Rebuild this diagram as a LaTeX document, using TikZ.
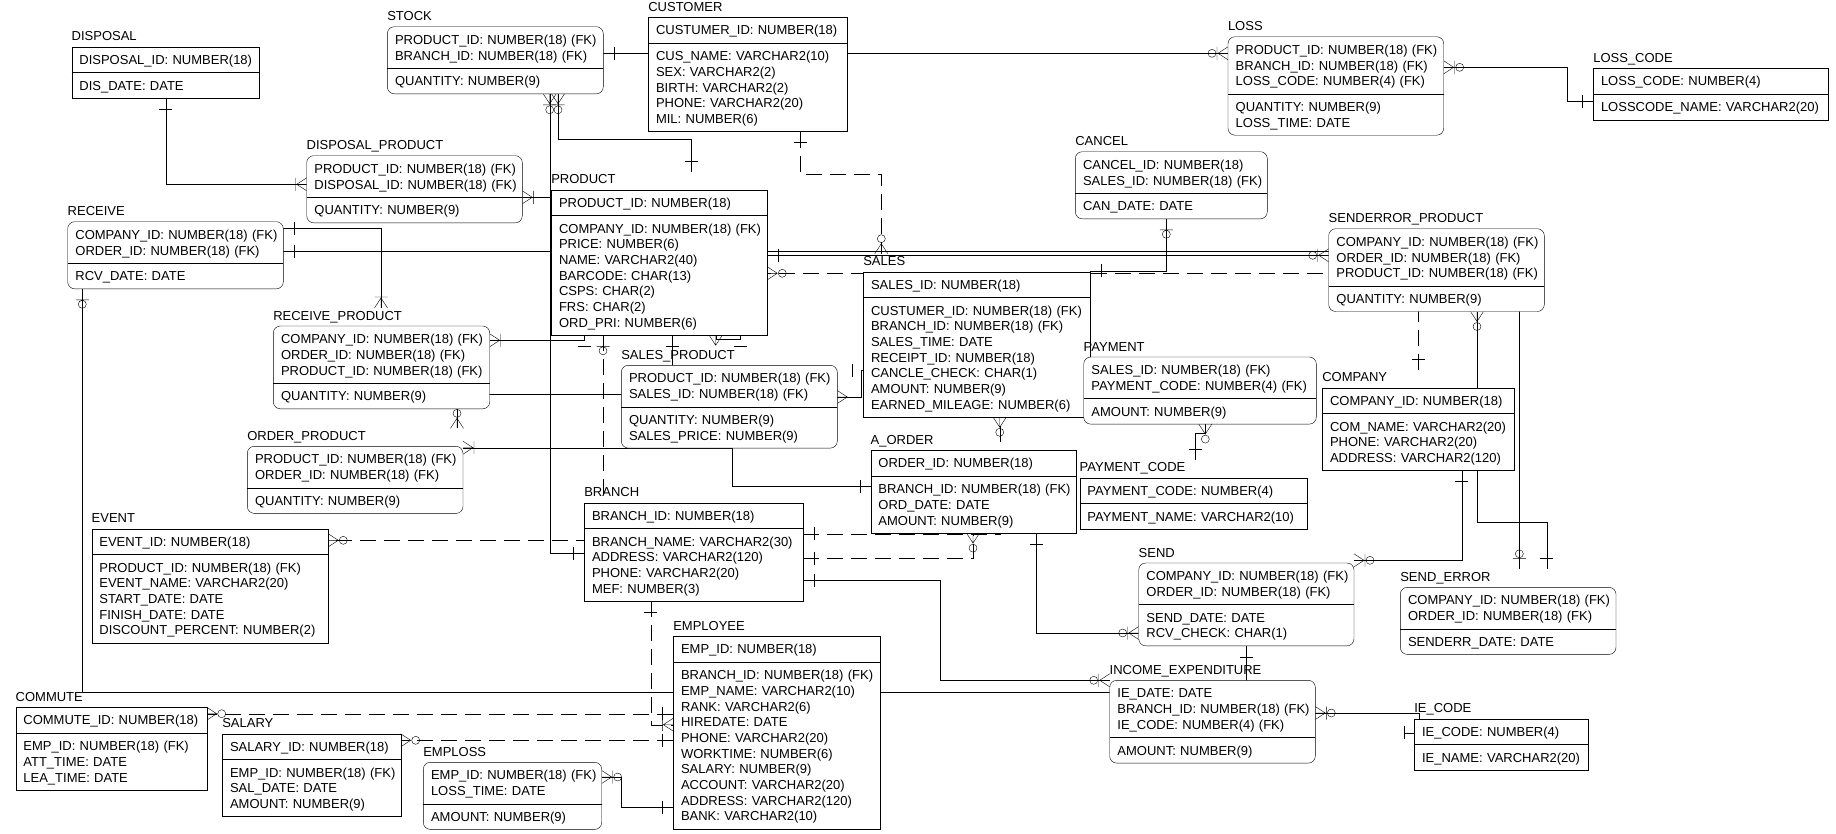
\documentclass[tikz,border=0pt]{standalone}
\usepackage{fontspec}
\newfontfamily\erfamily{Liberation Sans}
\usetikzlibrary{fit}
\pgfdeclarelayer{bg}\pgfdeclarelayer{mid}\pgfsetlayers{bg,mid,main}
\newcommand\erfnt{\erfamily\fontsize{13pt}{15.7pt}\selectfont}
\newcommand\erstrut{\rule[-3.1pt]{0pt}{15.7pt}}
\newcommand\errow[1]{\mbox{\erstrut#1}}
\tikzset{
 cell/.style={inner xsep=7.7pt, inner ysep=5pt, align=left, font=\erfnt, outer sep=0pt, anchor=north west},
 etitle/.style={anchor=base west, inner sep=0pt, outer sep=0pt, font=\erfnt, text height=12pt, text depth=0pt},
 rnd/.style={rounded corners=7pt},
 sq/.style={},
 dsh/.style={dash pattern=on 16pt off 8pt},
 pone/.pic={\draw (11,-6.5)--(11,6.5);},
 pmany/.pic={\draw (0,-6.5)--(10,0)--(0,6.5) (0,0)--(10,0);},
 ponemany/.pic={\draw (0,-6.5)--(10,0)--(0,6.5) (0,0)--(10,0) (11,-6.5)--(11,6.5);},
 pzeromany/.pic={\draw (0,-6.5)--(10,0)--(0,6.5) (0,0)--(10,0) (15,0) circle[radius=4pt];},
 pzeroone/.pic={\draw (11,-6.5)--(11,6.5) (15.5,0) circle[radius=4pt];},
 pzom/.pic={\draw (0,-6.5)--(10,0)--(0,6.5) (0,0)--(10,0) (11,-6.5)--(11,6.5) (16,0) circle[radius=4pt];},
}
\newcommand\erent[8]{%
 \pgfmathsetmacro\ertw{#5-15.4}%
 \node[cell, text width=\ertw pt] (#2-k) at (#3,#4) {#7};
 \node[cell, text width=\ertw pt] (#2-n) at (#2-k.south west) {#8};
 \begin{pgfonlayer}{mid}
 \node[fit=(#2-k)(#2-n), inner sep=0pt, outer sep=0pt, draw, fill=white, #1] (#2) {};
 \end{pgfonlayer}
 \draw (#2-k.south west) -- (#2-k.south east);
 \node[etitle] (#2-t) at ([yshift=6pt]#2-k.north west) {#6};
}
\newcommand\ersym[3]{\pic[rotate=#2] at (#3) {#1};}
\begin{document}
\begin{tikzpicture}[x=1pt, y=-1pt, line width=1pt]
\useasboundingbox (0,0) rectangle (1836,833);
% ---------------- entities
\erent{sq}{disp}{71.7}{46.7}{187.6}{DISPOSAL}{\errow{DISPOSAL\_ID: NUMBER(18)}}{\errow{DIS\_DATE: DATE}}
\erent{rnd}{stock}{387.3}{26.7}{216}{STOCK}{\errow{PRODUCT\_ID: NUMBER(18) (FK)}\\\errow{BRANCH\_ID: NUMBER(18) (FK)}}{\errow{QUANTITY: NUMBER(9)}}
\erent{sq}{cust}{648.3}{17.3}{199}{CUSTOMER}{\errow{CUSTUMER\_ID: NUMBER(18)}}{\errow{CUS\_NAME: VARCHAR2(10)}\\\errow{SEX: VARCHAR2(2)}\\\errow{BIRTH: VARCHAR2(2)}\\\errow{PHONE: VARCHAR2(20)}\\\errow{MIL: NUMBER(6)}}
\erent{rnd}{loss}{1228}{36.7}{215.7}{LOSS}{\errow{PRODUCT\_ID: NUMBER(18) (FK)}\\\errow{BRANCH\_ID: NUMBER(18) (FK)}\\\errow{LOSS\_CODE: NUMBER(4) (FK)}}{\errow{QUANTITY: NUMBER(9)}\\\errow{LOSS\_TIME: DATE}}
\erent{sq}{lcode}{1593.3}{68.3}{235}{LOSS\_CODE}{\errow{LOSS\_CODE: NUMBER(4)}}{\errow{LOSSCODE\_NAME: VARCHAR2(20)}}
\erent{rnd}{dprod}{306.7}{155.7}{215.6}{DISPOSAL\_PRODUCT}{\errow{PRODUCT\_ID: NUMBER(18) (FK)}\\\errow{DISPOSAL\_ID: NUMBER(18) (FK)}}{\errow{QUANTITY: NUMBER(9)}}
\erent{rnd}{recv}{67.7}{221.7}{215.6}{RECEIVE}{\errow{COMPANY\_ID: NUMBER(18) (FK)}\\\errow{ORDER\_ID: NUMBER(18) (FK)}}{\errow{RCV\_DATE: DATE}}
\erent{sq}{prod}{551.3}{189.7}{216}{PRODUCT}{\errow{PRODUCT\_ID: NUMBER(18)}}{\errow{COMPANY\_ID: NUMBER(18) (FK)}\\\errow{PRICE: NUMBER(6)}\\\errow{NAME: VARCHAR2(40)}\\\errow{BARCODE: CHAR(13)}\\\errow{CSPS: CHAR(2)}\\\errow{FRS: CHAR(2)}\\\errow{ORD\_PRI: NUMBER(6)}}
\erent{rnd}{cancel}{1075.3}{151.7}{192}{CANCEL}{\errow{CANCEL\_ID: NUMBER(18)}\\\errow{SALES\_ID: NUMBER(18) (FK)}}{\errow{CAN\_DATE: DATE}}
\erent{rnd}{sep}{1328.7}{228.7}{215.6}{SENDERROR\_PRODUCT}{\errow{COMPANY\_ID: NUMBER(18) (FK)}\\\errow{ORDER\_ID: NUMBER(18) (FK)}\\\errow{PRODUCT\_ID: NUMBER(18) (FK)}}{\errow{QUANTITY: NUMBER(9)}}
\erent{sq}{sales}{863.3}{271.7}{226.4}{SALES}{\errow{SALES\_ID: NUMBER(18)}}{\errow{CUSTUMER\_ID: NUMBER(18) (FK)}\\\errow{BRANCH\_ID: NUMBER(18) (FK)}\\\errow{SALES\_TIME: DATE}\\\errow{RECEIPT\_ID: NUMBER(18)}\\\errow{CANCLE\_CHECK: CHAR(1)}\\\errow{AMOUNT: NUMBER(9)}\\\errow{EARNED\_MILEAGE: NUMBER(6)}}
\erent{rnd}{rprod}{273.3}{326}{216.4}{RECEIVE\_PRODUCT}{\errow{COMPANY\_ID: NUMBER(18) (FK)}\\\errow{ORDER\_ID: NUMBER(18) (FK)}\\\errow{PRODUCT\_ID: NUMBER(18) (FK)}}{\errow{QUANTITY: NUMBER(9)}}
\erent{rnd}{sprod}{621.3}{365.3}{216}{SALES\_PRODUCT}{\errow{PRODUCT\_ID: NUMBER(18) (FK)}\\\errow{SALES\_ID: NUMBER(18) (FK)}}{\errow{QUANTITY: NUMBER(9)}\\\errow{SALES\_PRICE: NUMBER(9)}}
\erent{rnd}{pay}{1083.7}{357}{232.6}{PAYMENT}{\errow{SALES\_ID: NUMBER(18) (FK)}\\\errow{PAYMENT\_CODE: NUMBER(4) (FK)}}{\errow{AMOUNT: NUMBER(9)}}
\erent{sq}{comp}{1322.3}{387.7}{192}{COMPANY}{\errow{COMPANY\_ID: NUMBER(18)}}{\errow{COM\_NAME: VARCHAR2(20)}\\\errow{PHONE: VARCHAR2(20)}\\\errow{ADDRESS: VARCHAR2(120)}}
\erent{rnd}{oprod}{247.3}{446.3}{215.7}{ORDER\_PRODUCT}{\errow{PRODUCT\_ID: NUMBER(18) (FK)}\\\errow{ORDER\_ID: NUMBER(18) (FK)}}{\errow{QUANTITY: NUMBER(9)}}
\erent{sq}{aord}{870.7}{450.3}{205.6}{A\_ORDER}{\errow{ORDER\_ID: NUMBER(18)}}{\errow{BRANCH\_ID: NUMBER(18) (FK)}\\\errow{ORD\_DATE: DATE}\\\errow{AMOUNT: NUMBER(9)}}
\erent{sq}{pcode}{1079.7}{477.7}{227.6}{PAYMENT\_CODE}{\errow{PAYMENT\_CODE: NUMBER(4)}}{\errow{PAYMENT\_NAME: VARCHAR2(10)}}
\erent{sq}{branch}{584.3}{502.7}{219}{BRANCH}{\errow{BRANCH\_ID: NUMBER(18)}}{\errow{BRANCH\_NAME: VARCHAR2(30)}\\\errow{ADDRESS: VARCHAR2(120)}\\\errow{PHONE: VARCHAR2(20)}\\\errow{MEF: NUMBER(3)}}
\erent{sq}{event}{91.7}{528.7}{236.6}{EVENT}{\errow{EVENT\_ID: NUMBER(18)}}{\errow{PRODUCT\_ID: NUMBER(18) (FK)}\\\errow{EVENT\_NAME: VARCHAR2(20)}\\\errow{START\_DATE: DATE}\\\errow{FINISH\_DATE: DATE}\\\errow{DISCOUNT\_PERCENT: NUMBER(2)}}
\erent{rnd}{send}{1138.7}{563}{215.3}{SEND}{\errow{COMPANY\_ID: NUMBER(18) (FK)}\\\errow{ORDER\_ID: NUMBER(18) (FK)}}{\errow{SEND\_DATE: DATE}\\\errow{RCV\_CHECK: CHAR(1)}}
\erent{rnd}{serr}{1400.3}{587.3}{215.7}{SEND\_ERROR}{\errow{COMPANY\_ID: NUMBER(18) (FK)}\\\errow{ORDER\_ID: NUMBER(18) (FK)}}{\errow{SENDERR\_DATE: DATE}}
\erent{sq}{emp}{673.3}{636.3}{206.4}{EMPLOYEE}{\errow{EMP\_ID: NUMBER(18)}}{\errow{BRANCH\_ID: NUMBER(18) (FK)}\\\errow{EMP\_NAME: VARCHAR2(10)}\\\errow{RANK: VARCHAR2(6)}\\\errow{HIREDATE: DATE}\\\errow{PHONE: VARCHAR2(20)}\\\errow{WORKTIME: NUMBER(6)}\\\errow{SALARY: NUMBER(9)}\\\errow{ACCOUNT: VARCHAR2(20)}\\\errow{ADDRESS: VARCHAR2(120)}\\\errow{BANK: VARCHAR2(10)}}
\erent{rnd}{ie}{1109.7}{680.3}{205.6}{INCOME\_EXPENDITURE}{\errow{IE\_DATE: DATE}\\\errow{BRANCH\_ID: NUMBER(18) (FK)}\\\errow{IE\_CODE: NUMBER(4) (FK)}}{\errow{AMOUNT: NUMBER(9)}}
\erent{sq}{iec}{1414.3}{718.7}{174}{IE\_CODE}{\errow{IE\_CODE: NUMBER(4)}}{\errow{IE\_NAME: VARCHAR2(20)}}
\erent{sq}{commute}{15.7}{707.3}{191}{COMMUTE}{\errow{COMMUTE\_ID: NUMBER(18)}}{\errow{EMP\_ID: NUMBER(18) (FK)}\\\errow{ATT\_TIME: DATE}\\\errow{LEA\_TIME: DATE}}
\erent{sq}{salary}{222.3}{733.7}{178.4}{SALARY}{\errow{SALARY\_ID: NUMBER(18)}}{\errow{EMP\_ID: NUMBER(18) (FK)}\\\errow{SAL\_DATE: DATE}\\\errow{AMOUNT: NUMBER(9)}}
\erent{rnd}{emploss}{423.3}{762.3}{178.4}{EMPLOSS}{\errow{EMP\_ID: NUMBER(18) (FK)}\\\errow{LOSS\_TIME: DATE}}{\errow{AMOUNT: NUMBER(9)}}
% ---------------- connectors
\begin{pgfonlayer}{bg}
\fill[white] (0,0) rectangle (1836,833);
% DISPOSAL - DISPOSAL_PRODUCT
\draw (disp.south -| 165.7,0) |- (dprod.west |- 0,184.3);
\ersym{pone}{-90}{disp.south -| 165.7,0}
\ersym{ponemany}{180}{dprod.west |- 0,184.3}
% PRODUCT - DISPOSAL_PRODUCT
\draw (dprod.east |- 0,197.3) -- (prod.west |- 0,197.3);
\ersym{ponemany}{0}{dprod.east |- 0,197.3}
% STOCK - LOSS
\draw (stock.east |- 0,53.3) -- (loss.west |- 0,53.3);
\ersym{pone}{0}{stock.east |- 0,53.3}
\ersym{pzom}{180}{loss.west |- 0,53.3}
% LOSS_CODE - LOSS
\draw (loss.east |- 0,67.3) -| (1566.7,101) -- (lcode.west |- 0,101);
\ersym{pzom}{0}{loss.east |- 0,67.3}
\ersym{pone}{180}{lcode.west |- 0,101}
% PRODUCT - STOCK
\draw (prod-t.north -| 691.3,0) |- (558,139.3) -- (stock.south -| 558,0);
\ersym{pone}{90}{prod-t.north -| 691.3,0}
\ersym{pzom}{-90}{stock.south -| 558,0}
% BRANCH - STOCK
\draw (branch.west |- 0,553) -| (stock.south -| 549.7,0);
\ersym{pone}{180}{branch.west |- 0,553}
\ersym{pzom}{-90}{stock.south -| 549.7,0}
% CUSTOMER - SALES
\draw[dsh] (cust.south -| 800,0) |- (881.3,174) -- (sales-t.north -| 881.3,0);
\ersym{pone}{-90}{cust.south -| 800,0}
\ersym{pzeromany}{90}{sales-t.north -| 881.3,0}
% PRODUCT - SENDERROR_PRODUCT
\draw (prod.east |- 0,255.3) -- (sep.west |- 0,255.3);
\ersym{pone}{0}{prod.east |- 0,255.3}
\ersym{pzom}{180}{sep.west |- 0,255.3}
% RECEIVE - SEND_ERROR
\draw (recv.east |- 0,251) -| (serr-t.north -| 1519.3,0);
\ersym{pone}{0}{recv.east |- 0,251}
\ersym{pzeroone}{90}{serr-t.north -| 1519.3,0}
% RECEIVE - RECEIVE_PRODUCT
\draw (recv.east |- 0,228.3) -| (rprod-t.north -| 381,0);
\ersym{pone}{0}{recv.east |- 0,228.3}
\ersym{ponemany}{90}{rprod-t.north -| 381,0}
% COMPANY - PRODUCT
\draw[dsh] (comp-t.north -| 1418.3,0) |- (prod.east |- 0,273.3);
\ersym{pone}{90}{comp-t.north -| 1418.3,0}
\ersym{pzeromany}{0}{prod.east |- 0,273.3}
% SALES - CANCEL
\draw (sales.east |- 0,270.7) -| (cancel.south -| 1166.3,0);
\ersym{pone}{0}{sales.east |- 0,270.7}
\ersym{pzeroone}{-90}{cancel.south -| 1166.3,0}
% SEND - RECEIVE
\draw (send.south -| 1246.3,0) |- (82.3,692.3) -- (recv.south -| 82.3,0);
\ersym{pone}{-90}{send.south -| 1246.3,0}
\ersym{pzeroone}{-90}{recv.south -| 82.3,0}
% PRODUCT - RECEIVE_PRODUCT
\draw (rprod.east |- 0,340.3) -| (prod.south -| 584,0);
\ersym{ponemany}{0}{rprod.east |- 0,340.3}
\ersym{pone}{-90}{prod.south -| 584,0}
% PRODUCT - ORDER_PRODUCT
\draw (prod.south -| 672.3,0) |- (457,393.7) -- (oprod-t.north -| 457,0);
\ersym{pzeromany}{90}{oprod-t.north -| 457,0}
% PRODUCT - PRODUCT (recursive)
\draw (prod.south -| 715.7,0) |- (740,339.3) -- (prod.south -| 740,0);
\ersym{pmany}{-90}{prod.south -| 715.7,0}
\ersym{pone}{-90}{prod.south -| 740,0}
% A_ORDER - ORDER_PRODUCT
\draw (aord.west |- 0,486.3) -| (732.3,447.7) -- (oprod.east |- 0,447.7);
\ersym{pone}{180}{aord.west |- 0,486.3}
\ersym{ponemany}{0}{oprod.east |- 0,447.7}
% PRODUCT - EVENT
\draw[dsh] (prod.south -| 603,0) |- (event.east |- 0,540.3);
\ersym{pzeroone}{-90}{prod.south -| 603,0}
\ersym{pzeromany}{0}{event.east |- 0,540.3}
% PRODUCT - SALES_PRODUCT
\draw (prod.south -| 672.3,0) -- (sprod.north -| 672.3,0);
\ersym{pone}{-90}{prod.south -| 672.3,0}
% SALES - SALES_PRODUCT
\draw (sprod.east |- 0,397) -| (861.3,370.3) -- (sales.west |- 0,370.3);
\ersym{pmany}{0}{sprod.east |- 0,397}
\ersym{pone}{180}{sales.west |- 0,370.3}
% BRANCH - SALES
\draw[dsh] (branch.east |- 0,533.7) -| (sales.south -| 999.7,0);
\ersym{pone}{0}{branch.east |- 0,533.7}
\ersym{pzeromany}{-90}{sales.south -| 999.7,0}
% BRANCH - A_ORDER
\draw[dsh] (branch.east |- 0,558) -| (aord.south -| 973,0);
\ersym{pone}{0}{branch.east |- 0,558}
\ersym{pzeromany}{-90}{aord.south -| 973,0}
% BRANCH - INCOME_EXPENDITURE
\draw (branch.east |- 0,580.3) -| (939.7,680.3) -- (ie.west |- 0,680.3);
\ersym{pone}{0}{branch.east |- 0,580.3}
\ersym{pzom}{180}{ie.west |- 0,680.3}
% A_ORDER - SEND
\draw (aord.south -| 1036.3,0) |- (send.west |- 0,633);
\ersym{pone}{-90}{aord.south -| 1036.3,0}
\ersym{pzom}{180}{send.west |- 0,633}
% COMPANY - SEND
\draw (comp.south -| 1461.7,0) |- (send.east |- 0,560.3);
\ersym{pone}{-90}{comp.south -| 1461.7,0}
\ersym{pzom}{0}{send.east |- 0,560.3}
% PAYMENT_CODE - PAYMENT
\draw (pcode-t.north -| 1195.3,0) |- (1205.3,433) -- (pay.south -| 1205.3,0);
\ersym{pone}{90}{pcode-t.north -| 1195.3,0}
\ersym{pzeromany}{-90}{pay.south -| 1205.3,0}
% SEND_ERROR - SENDERROR_PRODUCT
\draw (serr-t.north -| 1546.7,0) |- (1477,522) -- (sep.south -| 1477,0);
\ersym{pone}{90}{serr-t.north -| 1546.7,0}
\ersym{pzeromany}{-90}{sep.south -| 1477,0}
% IE_CODE - INCOME_EXPENDITURE
\draw (ie.east |- 0,713) -| (iec.north -| 1419.3,0);
\draw (iec.west |- 0,732.7) -- ++(-10,0) ++(0,-6.5) -- ++(0,13);
\ersym{pzom}{0}{ie.east |- 0,713}
% BRANCH - EMPLOYEE
\draw[dsh] (branch.south -| 650.7,0) |- (emp.west |- 0,724.7);
\ersym{pone}{-90}{branch.south -| 650.7,0}
\ersym{ponemany}{180}{emp.west |- 0,724.7}
% EMPLOYEE - COMMUTE
\draw[dsh] (emp.west |- 0,713.7) -- (commute.east |- 0,713.7);
\ersym{pone}{180}{emp.west |- 0,713.7}
\ersym{pzeromany}{0}{commute.east |- 0,713.7}
% EMPLOYEE - SALARY
\draw[dsh] (emp.west |- 0,740.3) -- (salary.east |- 0,740.3);
\ersym{pone}{180}{emp.west |- 0,740.3}
\ersym{pzeromany}{0}{salary.east |- 0,740.3}
% EMPLOYEE - EMPLOSS
\draw (emp.west |- 0,807.3) -| (620.7,777) -- (emploss.east |- 0,777);
\ersym{pone}{180}{emp.west |- 0,807.3}
\ersym{pzom}{0}{emploss.east |- 0,777}
\end{pgfonlayer}
\end{tikzpicture}
\end{document}
